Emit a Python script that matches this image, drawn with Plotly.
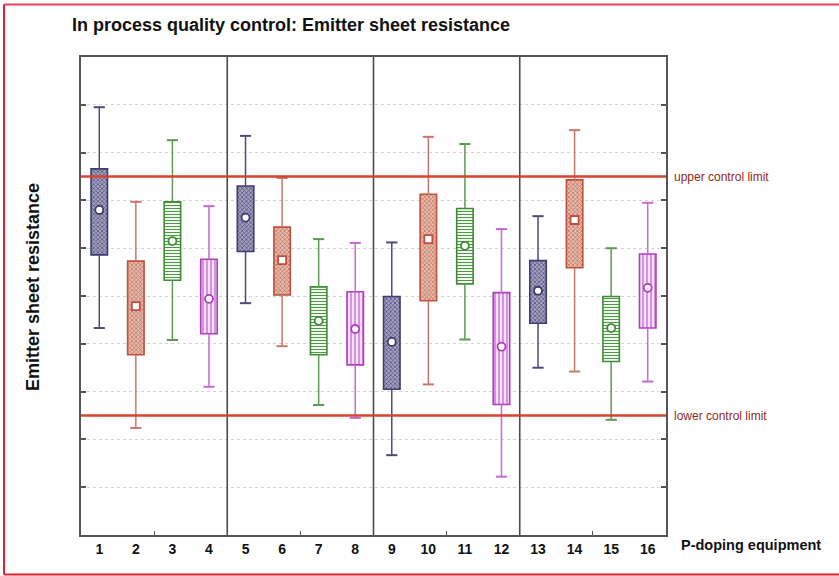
import plotly.graph_objects as go

# ---------------- data ----------------
equipment = list(range(1, 17))
whisker_low = [4.33, 2.24, 4.08, 3.10, 4.85, 3.95, 2.72, 2.45, 1.67, 3.15, 4.09, 1.22, 3.50, 3.42, 2.41, 3.21]
box_low     = [5.86, 3.77, 5.33, 4.21, 5.93, 5.02, 3.77, 3.56, 3.05, 4.90, 5.25, 2.73, 4.43, 5.59, 3.63, 4.33]
mean_val    = [6.80, 4.79, 6.15, 4.94, 6.64, 5.75, 4.48, 4.31, 4.04, 6.19, 6.05, 3.94, 5.11, 6.59, 4.33, 5.17]
box_high    = [7.66, 5.73, 6.97, 5.77, 7.30, 6.44, 5.19, 5.09, 4.99, 7.13, 6.83, 5.07, 5.74, 7.43, 4.99, 5.88]
whisker_high= [8.95, 6.97, 8.26, 6.88, 8.35, 7.47, 6.19, 6.11, 6.12, 8.33, 8.18, 6.40, 6.67, 8.47, 6.00, 6.95]
upper_limit = 7.5
lower_limit = 2.5
separators = [4.5, 8.5, 12.5]
y_ticks = list(range(0, 11))

# ---------------- styles ----------------
groups = [
    dict(border="#3d3c6e", fg="#4a4876", bg="#a4a2c0", shape="x", size=3, sol=0.4, whisk="#4d4c78", sym="circle"),
    dict(border="#c0503c", fg="#c46a55", bg="#e4bcae", shape="x", size=3, sol=0.4, whisk="#c8786a", sym="square"),
    dict(border="#3f8a35", fg="#4d9a44", bg="#f4faf2", shape="-", size=3, sol=0.35, whisk="#5d9a54", sym="circle"),
    dict(border="#b03cc0", fg="#c45ad2", bg="#f6e4f8", shape="|", size=4, sol=0.3, whisk="#c868d6", sym="circle"),
]

L, R, T, B = 81, 173, 57, 41
W, H = 839, 576
pw, ph = W - L - R, H - T - B
def px(xp):
    return (xp - L) / pw
def py(yp):
    return (H - B - yp) / ph

fig = go.Figure()
font = "Liberation Sans, Arial, sans-serif"

for g, st in enumerate(groups):
    idx = [i for i in range(16) if i % 4 == g]
    xs = [equipment[i] for i in idx]
    wx, wy = [], []
    for i in idx:
        wx += [equipment[i], equipment[i], None, equipment[i], equipment[i], None]
        wy += [box_high[i], whisker_high[i], None, box_low[i], whisker_low[i], None]
    fig.add_trace(go.Scatter(x=wx, y=wy, mode="lines",
                             line=dict(color=st["whisk"], width=1.5),
                             hoverinfo="skip", showlegend=False))
    fig.add_trace(go.Scatter(x=xs + xs,
                             y=[whisker_high[i] for i in idx] + [whisker_low[i] for i in idx],
                             mode="markers",
                             marker=dict(symbol="line-ew", size=8,
                                         line=dict(color=st["whisk"], width=2)),
                             hoverinfo="skip", showlegend=False))
    fig.add_trace(go.Bar(x=xs, base=[box_low[i] for i in idx],
                         y=[box_high[i] - box_low[i] for i in idx],
                         width=0.45,
                         marker=dict(color=st["bg"],
                                     line=dict(color=st["border"], width=1.6),
                                     pattern=dict(shape=st["shape"], size=st["size"],
                                                  solidity=st["sol"], fgcolor=st["fg"],
                                                  bgcolor=st["bg"], fillmode="replace")),
                         showlegend=False))
    fig.add_trace(go.Scatter(x=xs, y=[mean_val[i] for i in idx], mode="markers",
                             marker=dict(symbol=st["sym"], size=8, color="white",
                                         line=dict(color=st["border"], width=1.8)),
                             showlegend=False))

shapes = []
for s in separators:
    shapes.append(dict(type="line", xref="x", yref="paper", x0=s, x1=s, y0=0, y1=1,
                       line=dict(color="#4a4a4a", width=1.6), layer="above"))
for lim in (upper_limit, lower_limit):
    shapes.append(dict(type="line", xref="paper", yref="y", x0=0, x1=1, y0=lim, y1=lim,
                       line=dict(color="#d8432e", width=2.5), layer="above"))
# red frame
shapes.append(dict(type="line", xref="paper", yref="paper", x0=px(4), x1=px(839), y0=py(4.5), y1=py(4.5),
                   line=dict(color="#e8405a", width=2)))
shapes.append(dict(type="line", xref="paper", yref="paper", x0=px(4), x1=px(4), y0=py(4.5), y1=py(574.5),
                   line=dict(color="#e4202e", width=2)))
shapes.append(dict(type="line", xref="paper", yref="paper", x0=px(4), x1=px(839), y0=py(574.5), y1=py(574.5),
                   line=dict(color="#e4202e", width=2)))

annotations = [
    dict(text="upper control limit", xref="paper", yref="y", x=px(672), y=upper_limit,
         xanchor="left", yanchor="middle", showarrow=False,
         font=dict(family=font, size=12, color="#8e2a22")),
    dict(text="lower control limit", xref="paper", yref="y", x=px(672), y=lower_limit,
         xanchor="left", yanchor="middle", showarrow=False,
         font=dict(family=font, size=12, color="#8e2a22")),
    dict(text="<b>P-doping equipment</b>", xref="paper", yref="paper", x=px(679), y=py(545),
         xanchor="left", yanchor="middle", showarrow=False,
         font=dict(family=font, size=14.5, color="#111")),
    dict(text="<b>Emitter sheet resistance</b>", xref="paper", yref="paper", x=px(33), y=py(287),
         xanchor="center", yanchor="middle", textangle=-90, showarrow=False,
         font=dict(family=font, size=18, color="#111")),
]

fig.update_layout(
    width=W, height=H,
    margin=dict(l=L, r=R, t=T, b=B),
    paper_bgcolor="white", plot_bgcolor="white",
    barmode="overlay",
    title=dict(text="<b>In process quality control: Emitter sheet resistance</b>",
               x=72 / W, xanchor="left", xref="container",
               y=1 - 25 / H, yanchor="middle", yref="container",
               font=dict(family=font, size=18, color="#111")),
    shapes=shapes, annotations=annotations,
    xaxis=dict(range=[0.5, 16.5], tickmode="array", tickvals=equipment,
               ticktext=[f"<b>{e}</b>" for e in equipment],
               tickfont=dict(family=font, size=14, color="#111"),
               ticks="", showgrid=False, zeroline=False,
               showline=True, linecolor="#555", linewidth=2, mirror=True,
               minor=dict(tickmode="array", tickvals=[2.5, 6.5, 10.5, 14.5],
                          ticks="inside", ticklen=4, tickcolor="#555", showgrid=False)),
    yaxis=dict(range=[0, 10], tickmode="array", tickvals=y_ticks, showticklabels=False,
               ticks="inside", ticklen=5, tickcolor="#555", tickwidth=1.5,
               showgrid=True, gridcolor="#d4d4d4", griddash="dot", gridwidth=1,
               zeroline=False, showline=True, linecolor="#555", linewidth=2, mirror="ticks"),
)

fig.write_html("out.html", config={"displayModeBar": False},
               post_script="document.body.style.margin='0px';")
